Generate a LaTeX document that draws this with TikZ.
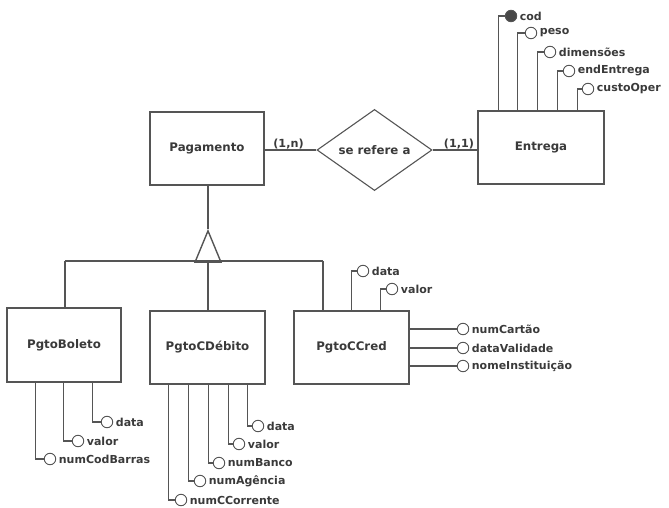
\documentclass[tikz,border=0pt]{standalone}
\usepackage{fontspec}
\setmainfont{DejaVu Sans}
\usetikzlibrary{shapes.geometric}
\definecolor{ln}{HTML}{555555}
\definecolor{tx}{HTML}{3A3A3A}
\tikzset{
  ent/.style={draw=ln, line width=1.5pt, fill=white, rectangle, inner sep=0pt, font=\fontsize{11.8}{14}\selectfont\bfseries, text=tx},
  rel/.style={draw=ln, line width=1.1pt, diamond, inner sep=0pt, minimum width=115pt, minimum height=58pt, font=\fontsize{11.8}{14}\selectfont\bfseries, text=tx},
  conn/.style={draw=ln, line width=1.2pt},
  attr/.style={draw=ln, line width=0.9pt, circle, fill=white, minimum size=11.5pt, inner sep=0pt},
  keyattr/.style={attr, fill=ln!85!black},
  lbl/.style={anchor=west, inner sep=0pt, xshift=2.5pt, font=\fontsize{11}{13}\selectfont\bfseries, text=tx},
  card/.style={inner sep=0pt, font=\fontsize{11.2}{13}\selectfont\bfseries, text=tx},
  isa/.style={draw=ln, line width=1.4pt, fill=white, isosceles triangle, isosceles triangle apex angle=45, shape border rotate=90, inner sep=0pt, minimum height=31pt, minimum width=26pt}
}
\begin{document}
\begin{tikzpicture}[x=1pt, y=-1pt]
\useasboundingbox (0,0) rectangle (669,508);

% entities
\node[ent, minimum width=114pt, minimum height=73pt] (Pag) at (207,148.5) {Pagamento};
\node[ent, minimum width=126pt, minimum height=73pt] (Ent) at (541,147.5) {Entrega};
\node[ent, minimum width=114pt, minimum height=74pt] (Bol) at (64,345) {PgtoBoleto};
\node[ent, minimum width=115pt, minimum height=73pt] (Deb) at (207.5,347.5) {PgtoCDébito};
\node[ent, minimum width=115pt, minimum height=73pt] (Cred) at (351.5,347.5) {PgtoCCred};

% relationship
\node[rel] (Rel) at (374.5,150) {se refere a};
\draw[conn] (Rel.west) -- (Rel.west -| Pag.east);
\draw[conn] (Rel.east) -- (Rel.east -| Ent.west);
\node[card] (c1n) at (288.5,144) {(1,n)};
\node[card] (c11) at (459,144) {(1,1)};

% specialization
\node[isa, anchor=apex] (Isa) at (208,229) {};
\coordinate (hl) at (65,261);
\coordinate (hr) at (323,261);
\draw[conn] (Pag.south -| Isa.apex) -- (Isa.apex);
\draw[conn] (hl) -- (hr);
\draw[conn] (hl) -- (hl |- Bol.north);
\draw[conn] (Isa.south) -- (Isa.south |- Deb.north);
\draw[conn] (hr) -- (hr |- Cred.north);

% Entrega attributes
\node[keyattr] (ecod) at (511,16) {};
\node[lbl] (ecodl) at (ecod.east) {cod};
\draw[conn] (ecod.west) -- ++(-6,0) coordinate (t) -- (t |- Ent.north);
\foreach \n/\t/\x/\y/\d in {epeso/peso/531/33/7, edim/dimensões/550/52/6, eend/endEntrega/569/71/5, ecus/custoOper/588/89/4}{
  \node[attr] (\n) at (\x,\y) {};
  \node[lbl] (\n l) at (\n.east) {\t};
  \draw[conn] (\n.west) -- ++(-\d,0) coordinate (t) -- (t |- Ent.north);
}

% PgtoBoleto attributes
\foreach \n/\t/\x/\y/\d in {bdata/data/107/422/8, bval/valor/78/441/8, bnum/numCodBarras/50/459/8}{
  \node[attr] (\n) at (\x,\y) {};
  \node[lbl] (\n l) at (\n.east) {\t};
  \draw[conn] (\n.west) -- ++(-\d,0) coordinate (t) -- (t |- Bol.south);
}

% PgtoCDebito attributes
\foreach \n/\t/\x/\y/\d in {ddata/data/258/426/4, dval/valor/239/444/4, dban/numBanco/219/463/4, dag/numAgência/200/481/5, dcc/numCCorrente/181/500/6}{
  \node[attr] (\n) at (\x,\y) {};
  \node[lbl] (\n l) at (\n.east) {\t};
  \draw[conn] (\n.west) -- ++(-\d,0) coordinate (t) -- (t |- Deb.south);
}

% PgtoCCred attributes
\foreach \n/\t/\x/\y/\d in {cdata/data/363/271/5, cval/valor/392/289/5}{
  \node[attr] (\n) at (\x,\y) {};
  \node[lbl] (\n l) at (\n.east) {\t};
  \draw[conn] (\n.west) -- ++(-\d,0) coordinate (t) -- (t |- Cred.north);
}
\foreach \n/\t/\y in {cnum/numCartão/329, cval2/dataValidade/348, cnome/nomeInstituição/366}{
  \node[attr] (\n) at (463,\y) {};
  \node[lbl] (\n l) at (\n.east) {\t};
  \draw[conn] (\n.west) -- (\n.west -| Cred.east);
}
\end{tikzpicture}
\end{document}
